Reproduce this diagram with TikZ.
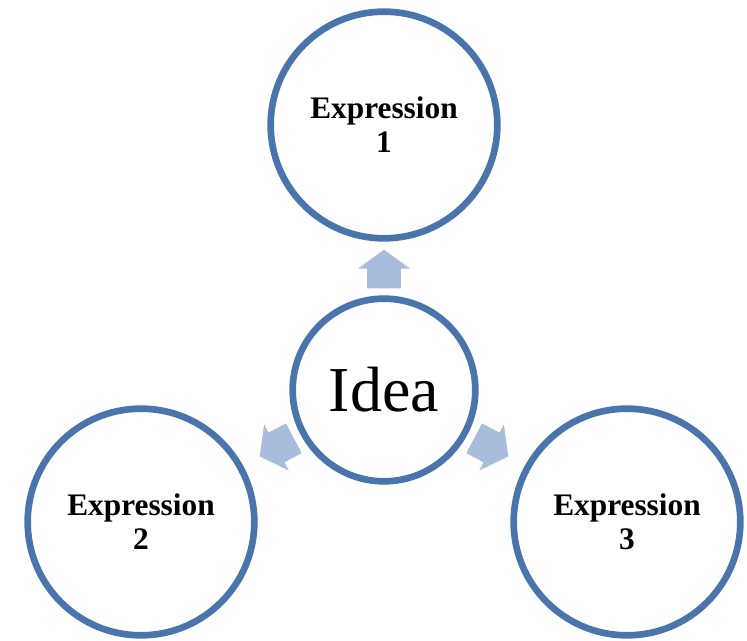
\documentclass[tikz,border=0pt]{standalone}
\usepackage{fontspec}
\setmainfont{Liberation Serif}
\usetikzlibrary{shapes.arrows,calc}
\definecolor{ringblue}{RGB}{74,116,172}
\definecolor{pushblue}{RGB}{168,188,220}

\begin{document}
\begin{tikzpicture}[
  x=0.75pt,
  y=0.75pt,
  ring/.style={circle, draw=ringblue, line width=5pt, fill=white, align=center, inner sep=0pt},
  expr/.style={ring, minimum size=170pt, font=\fontsize{23.5}{25.5}\selectfont\bfseries},
  idea/.style={ring, minimum size=137pt, font=\fontsize{48}{52}\selectfont},
  push/.style={single arrow, fill=pushblue, draw=none, inner xsep=0pt, inner ysep=12.4pt,
    minimum height=29pt, single arrow head extend=7pt, single arrow tip angle=108, anchor=tail},
]
  \useasboundingbox (0,0) rectangle (747,640);

  % centre
  \node[idea] (idea) at (384,250) {Idea};

  % Expression 1
  \node[expr] (expr1) at (384,515) {Expression\\1};
  % Expression 2
  \node[expr] (expr2) at (141,118) {Expression\\2};
  % Expression 3
  \node[expr] (expr3) at (627,118) {Expression\\3};

  % arrows out of the idea
  \node[push, rotate=90] (push1) at ($(idea.90)!5pt!(expr1.270)$) {};
  \node[push, rotate=208] (push2) at ($(idea.208)!5.5pt!(expr2.28)$) {};
  \node[push, rotate=332] (push3) at ($(idea.332)!5.5pt!(expr3.152)$) {};
\end{tikzpicture}
\end{document}
